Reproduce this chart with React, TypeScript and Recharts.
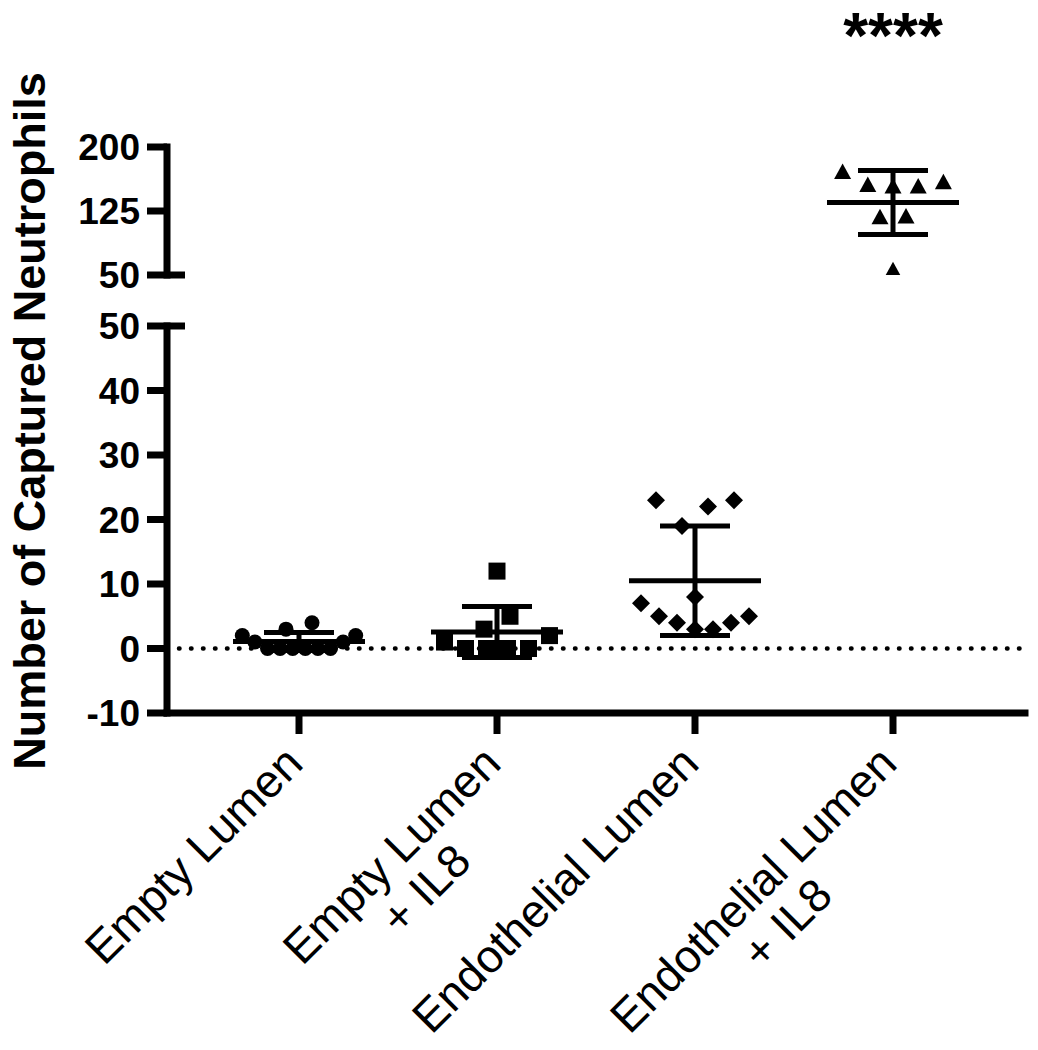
import React from 'react';
import { ComposedChart, Scatter, XAxis, YAxis, ReferenceLine, ReferenceDot } from 'recharts';

// ---------------- data ----------------
const categories = ['Empty Lumen', 'Empty Lumen\n+ IL8', 'Endothelial Lumen', 'Endothelial Lumen\n+ IL8'];
const emptyLumen = [0, 0, 0, 0, 0, 0, 1, 1, 2, 2, 3, 4];
const emptyLumenIL8 = [0, 0, 0, 0, 1, 2, 3, 5, 12];
const endothelialLumen = [3, 3, 4, 4, 5, 5, 7, 8, 19, 22, 23, 23];
const endothelialLumenIL8 = [55, 117, 118, 153, 153, 155, 158, 170];
const lowerTicks = [-10, 0, 10, 20, 30, 40, 50];
const upperTicks = [50, 125, 200];
const categoryTicks = [1, 2, 3, 4];
const significance = '****';
const yTitle = 'Number of Captured Neutrophils';

const groups = [emptyLumen, emptyLumenIL8, endothelialLumen, endothelialLumenIL8];

// ---------------- layout ----------------
const W = 1038;
const FONT = '"Liberation Sans", Arial, Helvetica, sans-serif';
const PLOT_LEFT = 167;
const PLOT_RIGHT = 1025;
const UPPER_TOP = 147;
const UPPER_BOTTOM = 275;
const UPPER_H = 300;
const LOWER_TOP = 326;
const LOWER_BOTTOM = 713;
const LOWER_H = 1050;
const X_DOMAIN: [number, number] = [1 / 3, 14 / 3];
const PX_PER_CAT = (PLOT_RIGHT - PLOT_LEFT) / (X_DOMAIN[1] - X_DOMAIN[0]);
const MEAN_HALF = 66 / PX_PER_CAT;
const CAP_HALF = 35 / PX_PER_CAT;
const AXIS_W = 7;
const TICK_SIZE = 20;
const TICK_MARGIN = 7;
const BREAK_CAP = 18;
const YF = 37;
const XF = 46;
const XLH = 48;

type Seg = { domain: [number, number]; binOrigin: number; binSize: number };
const lowerSeg: Seg = { domain: [-10, 50], binOrigin: 2.4, binSize: 5.3 };
const upperSeg: Seg = { domain: [50, 200], binOrigin: 137.9, binSize: 39.8 };

// Prism-like column scatter: points of similar value share a row and spread out sideways
function layoutGroup(values: number[], center: number) {
  const sorted = [...values].sort((a, b) => a - b);
  const rows = new Map<string, number[]>();
  sorted.forEach((v) => {
    const seg = v <= 50 ? lowerSeg : upperSeg;
    const key = (v <= 50 ? 'L' : 'U') + Math.floor((v - seg.binOrigin) / seg.binSize);
    if (!rows.has(key)) rows.set(key, []);
    rows.get(key)!.push(v);
  });
  const pts: { x: number; y: number }[] = [];
  rows.forEach((row) => {
    const n = row.length;
    const sp = Math.min(26, 126 / n);
    row.forEach((v, i) => {
      let slot: number;
      if (n % 2 === 1) slot = i === 0 ? 0 : i % 2 === 1 ? (i + 1) / 2 : -(i / 2);
      else slot = (i % 2 === 0 ? -1 : 1) * (Math.floor(i / 2) + 0.5);
      pts.push({ x: center + (slot * sp) / PX_PER_CAT, y: v });
    });
  });
  return pts;
}

const groupPoints = groups.map((g, i) => layoutGroup(g, i + 1));

function stats(vals: number[]) {
  const n = vals.length;
  const m = vals.reduce((a, b) => a + b, 0) / n;
  const sd = Math.sqrt(vals.reduce((a, b) => a + (b - m) * (b - m), 0) / (n - 1));
  return { m, sd };
}

// ---------------- shapes ----------------
const Circle = (p: any) => <circle cx={p.cx} cy={p.cy} r={7.5} fill="#000" />;
const Square = (p: any) => <rect x={p.cx - 8.5} y={p.cy - 8.5} width={17} height={17} fill="#000" />;
const Diamond = (p: any) => (
  <polygon points={`${p.cx},${p.cy - 9} ${p.cx + 9},${p.cy} ${p.cx},${p.cy + 9} ${p.cx - 9},${p.cy}`} fill="#000" />
);
const Triangle = (p: any) => (
  <polygon points={`${p.cx},${p.cy - 9} ${p.cx + 8.5},${p.cy + 6.5} ${p.cx - 8.5},${p.cy + 6.5}`} fill="#000" />
);
const shapes = [Circle, Square, Diamond, Triangle];

// ---------------- text helpers ----------------
let ctx: CanvasRenderingContext2D | null = null;
function textWidth(s: string, font: string) {
  if (!ctx && typeof document !== 'undefined') ctx = document.createElement('canvas').getContext('2d');
  if (!ctx) return s.length * XF * 0.55;
  ctx.font = font;
  return ctx.measureText(s).width;
}

const YTick = (p: any) => {
  const axisX = p.x + TICK_SIZE + TICK_MARGIN;
  return (
    <g>
      {p.payload.value === 50 && (
        <line x1={axisX} x2={axisX + BREAK_CAP} y1={p.y} y2={p.y} stroke="#000" strokeWidth={AXIS_W} />
      )}
      <text x={p.x} y={p.y} dy="0.36em" textAnchor="end" fontFamily={FONT} fontSize={YF} fontWeight={700} fill="#000">
        {p.payload.value}
      </text>
    </g>
  );
};

const XTick = (p: any) => {
  const label = categories[Math.round(p.payload.value) - 1];
  if (!label) return null;
  const lines = label.split('\n');
  const w0 = textWidth(lines[0], `${XF}px ${FONT}`);
  return (
    <g transform={`translate(${p.x + 6},${p.y + 30}) rotate(-45)`}>
      <text textAnchor="middle" fontFamily={FONT} fontSize={XF} fill="#000">
        {lines.map((l, i) => (
          <tspan key={i} x={-w0 / 2} y={i * XLH}>
            {l}
          </tspan>
        ))}
      </text>
    </g>
  );
};

function statLines(seg: Seg, prefix: string) {
  const out: React.ReactNode[] = [];
  const [d0, d1] = seg.domain;
  const inD = (v: number) => v >= d0 && v <= d1;
  const common = { stroke: '#000', strokeWidth: 5, ifOverflow: 'visible' as const };
  groups.forEach((vals, gi) => {
    const c = gi + 1;
    const { m, sd } = stats(vals);
    const lo = m - sd;
    const hi = m + sd;
    const a = Math.max(lo, d0);
    const b = Math.min(hi, d1);
    if (a < b)
      out.push(<ReferenceLine key={`${prefix}v${gi}`} segment={[{ x: c, y: a }, { x: c, y: b }]} {...common} />);
    if (inD(m))
      out.push(
        <ReferenceLine key={`${prefix}m${gi}`} segment={[{ x: c - MEAN_HALF, y: m }, { x: c + MEAN_HALF, y: m }]} {...common} />
      );
    if (inD(hi))
      out.push(
        <ReferenceLine key={`${prefix}h${gi}`} segment={[{ x: c - CAP_HALF, y: hi }, { x: c + CAP_HALF, y: hi }]} {...common} />
      );
    if (inD(lo))
      out.push(
        <ReferenceLine key={`${prefix}l${gi}`} segment={[{ x: c - CAP_HALF, y: lo }, { x: c + CAP_HALF, y: lo }]} {...common} />
      );
  });
  return out;
}

function scatters(seg: Seg, prefix: string) {
  const [d0, d1] = seg.domain;
  const isLower = d0 < 50;
  return groupPoints.map((pts, gi) => (
    <Scatter
      key={`${prefix}s${gi}`}
      data={pts.filter((p) => (isLower ? p.y <= 50 : p.y > 50) && p.y >= d0 && p.y <= d1)}
      shape={shapes[gi]}
      fill="#000"
      isAnimationActive={false}
    />
  ));
}

const axisLineStyle = { stroke: '#000', strokeWidth: AXIS_W, strokeLinecap: 'square' as const };
const tickLineStyle = { stroke: '#000', strokeWidth: AXIS_W };

export default function App() {
  return (
    <div style={{ position: 'absolute', left: 0, top: 0, width: W, height: LOWER_H, background: '#fff', fontFamily: FONT }}>
      <div style={{ position: 'absolute', left: 0, top: 0 }}>
        <ComposedChart width={W} height={UPPER_H} margin={{ top: UPPER_TOP, right: W - PLOT_RIGHT, bottom: UPPER_H - UPPER_BOTTOM, left: 0 }}>
          <XAxis type="number" dataKey="x" domain={X_DOMAIN} allowDataOverflow hide />
          <YAxis
            type="number"
            dataKey="y"
            domain={upperSeg.domain}
            ticks={upperTicks}
            interval={0}
            allowDataOverflow
            width={PLOT_LEFT}
            tickSize={TICK_SIZE}
            tickMargin={TICK_MARGIN}
            axisLine={axisLineStyle}
            tickLine={tickLineStyle}
            tick={(p: any) => <YTick {...p} />}
          />
          {statLines(upperSeg, 'u')}
          {scatters(upperSeg, 'u')}
          <ReferenceDot
            x={4}
            y={200}
            r={1}
            fill="none"
            stroke="none"
            ifOverflow="visible"
            label={(lp: any) => {
              const vb = lp.viewBox || {};
              return (
                <text
                  x={(vb.x || 0) + (vb.width || 0) / 2}
                  y={(vb.y || 0) + (vb.height || 0) / 2 - 89}
                  textAnchor="middle"
                  fontFamily={FONT}
                  fontSize={64}
                  fontWeight={700}
                  fill="#000"
                >
                  {significance}
                </text>
              );
            }}
          />
        </ComposedChart>
      </div>
      <div style={{ position: 'absolute', left: 0, top: 0 }}>
        <ComposedChart width={W} height={LOWER_H} margin={{ top: LOWER_TOP, right: W - PLOT_RIGHT, bottom: 0, left: 0 }}>
          <XAxis
            type="number"
            dataKey="x"
            domain={X_DOMAIN}
            ticks={categoryTicks}
            interval={0}
            allowDataOverflow
            height={LOWER_H - LOWER_BOTTOM}
            tickSize={21}
            tickMargin={2}
            axisLine={axisLineStyle}
            tickLine={tickLineStyle}
            tick={(p: any) => <XTick {...p} />}
          />
          <YAxis
            type="number"
            dataKey="y"
            domain={lowerSeg.domain}
            ticks={lowerTicks}
            interval={0}
            allowDataOverflow
            width={PLOT_LEFT}
            tickSize={TICK_SIZE}
            tickMargin={TICK_MARGIN}
            axisLine={axisLineStyle}
            tickLine={tickLineStyle}
            tick={(p: any) => <YTick {...p} />}
          />
          <ReferenceLine y={0} stroke="#000" strokeWidth={4.5} strokeDasharray="0.5 11.5" strokeLinecap="round" />
          {statLines(lowerSeg, 'l')}
          {scatters(lowerSeg, 'l')}
        </ComposedChart>
      </div>
      <svg width={W} height={LOWER_H} style={{ position: 'absolute', left: 0, top: 0, pointerEvents: 'none' }}>
        <text
          transform={`translate(45,421) rotate(-90)`}
          textAnchor="middle"
          fontFamily={FONT}
          fontSize={45}
          fontWeight={700}
          fill="#000"
        >
          {yTitle}
        </text>
      </svg>
    </div>
  );
}
